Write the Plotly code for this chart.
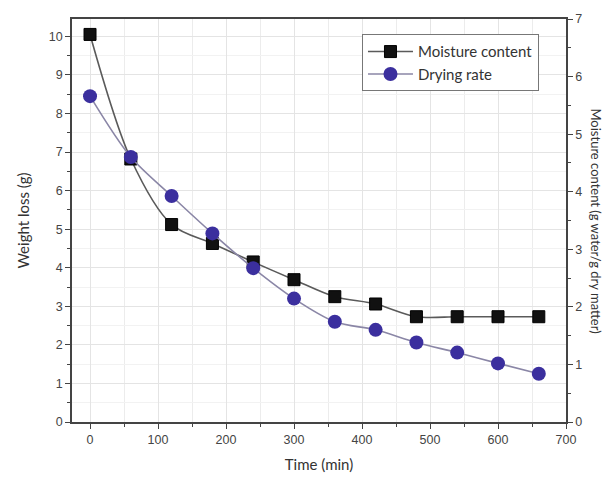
import plotly.graph_objects as go

time_min = [0, 60, 120, 180, 240, 300, 360, 420, 480, 540, 600, 660]
moisture_content = [10.05, 6.82, 5.12, 4.63, 4.15, 3.69, 3.25, 3.06, 2.73, 2.73, 2.73, 2.73]
drying_rate = [8.45, 6.87, 5.86, 4.89, 3.99, 3.20, 2.60, 2.39, 2.06, 1.80, 1.52, 1.25]

x_ticks = [0, 100, 200, 300, 400, 500, 600, 700]
left_ticks = list(range(0, 11))
right_ticks = list(range(0, 8))

tick_font = dict(family="Liberation Sans, Arial", size=12.5, color="#444")
title_font = dict(family="Lato, Open Sans", size=15, color="#333")

fig = go.Figure()
fig.add_trace(go.Scatter(
    x=time_min, y=moisture_content, name="Moisture content",
    mode="lines+markers", line=dict(color="#5a5a5a", width=1.6, shape="spline", smoothing=0.9),
    marker=dict(symbol="square", size=12, color="#111", line=dict(color="#000", width=1)),
))
fig.add_trace(go.Scatter(
    x=time_min, y=drying_rate, name="Drying rate",
    mode="lines+markers", line=dict(color="#8a86a6", width=1.6, shape="spline", smoothing=0.9),
    marker=dict(symbol="circle", size=14, color="#3b2f9e", line=dict(color="#3b2f9e", width=0)),
))
# invisible trace to activate right axis
fig.add_trace(go.Scatter(x=[None], y=[None], yaxis="y2", showlegend=False, hoverinfo="skip"))

axis_common = dict(
    showline=True, linecolor="#444", linewidth=1.5, ticks="outside", ticklen=5,
    tickcolor="#444", tickwidth=1.3, tickfont=tick_font, zeroline=False,
    gridcolor="#e4e4e4", gridwidth=1,
)

fig.update_layout(
    width=606, height=483,
    margin=dict(l=72, r=40, t=16, b=61),
    paper_bgcolor="white", plot_bgcolor="white",
    xaxis=dict(
        **axis_common, range=[-26.5, 700], tickvals=x_ticks, mirror=True,
        title=dict(text="Time (min)", font=title_font, standoff=14),
        minor=dict(dtick=50, tick0=0, ticks="outside", ticklen=3, tickcolor="#444", showgrid=True, gridcolor="#ececec"),
        showgrid=True,
    ),
    yaxis=dict(
        **axis_common, range=[0, 10.45], tickvals=left_ticks,
        title=dict(text="Weight loss (g)", font=title_font, standoff=16),
        minor=dict(dtick=0.5, tick0=0, ticks="outside", ticklen=3, tickcolor="#444", showgrid=True, gridcolor="#f2f2f2"),
        showgrid=True,
    ),
    yaxis2=dict(
        showline=True, linecolor="#444", linewidth=1.5, ticks="outside", ticklen=5,
        tickcolor="#444", tickwidth=1.3, tickfont=tick_font, zeroline=False,
        overlaying="y", side="right", range=[0, 7], tickvals=right_ticks, showgrid=False,
        minor=dict(dtick=0.5, tick0=0, ticks="outside", ticklen=3, tickcolor="#444"),
    ),
    legend=dict(
        x=0.587, y=0.962, xanchor="left", yanchor="top",
        bgcolor="white", bordercolor="#777", borderwidth=1,
        font=dict(family="Lato, Open Sans", size=15, color="#333"),
        tracegroupgap=0, itemwidth=45,
    ),
    showlegend=True,
)

fig.add_annotation(
    text="Moisture content (g water/g dry matter)", textangle=90,
    xref="paper", yref="paper", x=1.0, y=0.5, xshift=30,
    xanchor="center", yanchor="middle", showarrow=False,
    font=dict(family="Lato, Open Sans", size=13, color="#333"),
)

fig.write_html("out.html")
